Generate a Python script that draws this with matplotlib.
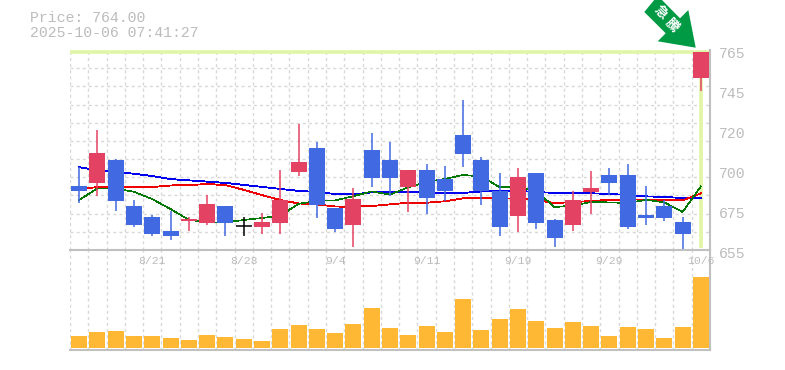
import matplotlib
import matplotlib.pyplot as plt
from matplotlib.patches import Polygon
from matplotlib.transforms import ScaledTranslation

matplotlib.use("Agg")

W, H = 785, 370

opens = [690.2, 691.9, 704.5, 679.2, 673.2, 665.5, 671.0, 669.9, 679.2, 668.0, 667.7, 669.9,
         697.9, 711.1, 678.1, 668.8, 710.0, 704.5, 689.7, 699.0, 694.0, 718.3, 704.5, 687.5,
         673.7, 697.4, 671.5, 668.8, 686.9, 696.3, 696.3, 674.3, 679.2, 670.4, 749.6]
closes = [687.5, 708.4, 682.0, 668.8, 663.8, 662.7, 672.0, 680.3, 669.9, 668.0, 670.4, 682.5,
          703.4, 679.8, 666.6, 683.0, 694.6, 694.6, 699.0, 683.6, 687.5, 707.8, 687.5, 667.7,
          695.2, 669.9, 661.6, 682.5, 689.1, 691.9, 667.7, 672.6, 672.6, 663.8, 764.0]
highs = [700.5, 721.0, 704.9, 682.5, 674.3, 676.5, 673.2, 685.3, 679.2, 673.2, 675.4, 699.0,
         724.3, 714.4, 678.1, 689.1, 719.4, 714.4, 699.0, 702.3, 701.2, 737.5, 706.2, 697.4,
         700.1, 697.4, 672.0, 687.5, 698.5, 700.1, 702.3, 690.2, 682.5, 673.2, 764.0]
lows = [681.0, 684.7, 676.6, 667.8, 662.7, 660.5, 665.5, 668.8, 662.7, 662.7, 663.8, 663.8,
        695.7, 672.6, 664.9, 656.8, 689.7, 684.7, 675.9, 674.8, 682.0, 700.7, 679.8, 662.7,
        664.9, 666.6, 656.7, 665.5, 674.8, 685.3, 666.6, 668.8, 671.0, 655.6, 742.5]

ma_blue = [700.5, 699.0, 698.1, 696.9, 695.7, 694.0, 693.3, 692.6, 691.9, 690.8, 689.7, 688.6,
           687.5, 686.9, 685.8, 685.6, 686.7, 687.1, 687.1, 686.5, 686.4, 686.4, 687.2, 687.5,
           687.5, 686.9, 686.4, 686.4, 686.2, 685.8, 685.3, 684.5, 684.2, 683.6, 683.4]
ma_red = [688.6, 689.6, 690.0, 689.6, 689.6, 690.5, 690.7, 691.3, 690.7, 688.1, 685.2, 682.5,
          680.6, 680.1, 678.9, 678.8, 679.2, 680.1, 681.0, 681.0, 681.8, 683.4, 683.4, 683.4,
          683.2, 682.5, 680.8, 681.4, 681.9, 682.6, 682.8, 682.8, 682.5, 682.3, 686.1]
ma_green = [682.5, 688.9, 688.7, 687.0, 683.0, 677.5, 671.6, 670.2, 670.2, 671.5, 672.6, 673.9,
            680.4, 682.0, 682.3, 684.6, 687.2, 685.5, 689.5, 692.3, 694.1, 696.3, 695.4, 689.5,
            690.1, 687.3, 678.6, 679.5, 681.4, 681.2, 680.8, 682.6, 681.2, 675.9, 690.0]

volumes = [12, 16, 17, 12, 12, 10, 8, 13, 11, 9, 7, 19, 23, 19, 15, 24, 40, 20, 13, 22, 16, 49,
           18, 29, 39, 27, 20, 26, 22, 12, 21, 19, 10, 21, 71]

date_idx = [4, 9, 14, 19, 24, 29, 34]
date_labels = ["8/21", "8/28", "9/4", "9/11", "9/19", "9/29", "10/6"]
price_ticks = [765, 743, 721, 699, 677, 655]
price_labels = ["765", "745", "720", "700", "675", "655"]

RED = "#e44262"
BLUE = "#4169e1"
ORANGE = "#ffb833"
TEXT = "#bcbcbc"
GRID = "#d8d8d8"
AXIS = "#c0c0c0"
LIME = "#e0f5a5"
MONO = "Liberation Mono"

n = len(opens)
xs = [i + 0.5 for i in range(n)]


def box(top, bottom):
    return [70 / W, 1 - bottom / H, 640 / W, (bottom - top) / H]


fig = plt.figure(figsize=(W / 100, H / 100), dpi=100)
ax = fig.add_axes(box(50, 250))
vol = fig.add_axes(box(250, 350))
vol.patch.set_visible(False)
ax.set_zorder(2)
ax.patch.set_visible(False)

for a in (ax, vol):
    a.set_xlim(0, n)
    a.set_xticks(range(n + 1), minor=True)
    a.grid(True, which="minor", axis="x", color=GRID, lw=1, ls=(0, (2.2, 2.2)))
    a.set_axisbelow(True)
    a.tick_params(which="minor", length=0)
    for s in ("top", "left"):
        a.spines[s].set_visible(False)
    for s in ("bottom", "right"):
        a.spines[s].set_color(AXIS)
        a.spines[s].set_linewidth(1.5)

# price panel
ax.set_ylim(655, 765)
ax.set_yticks(range(655, 766, 10), minor=True)
ax.grid(True, which="minor", axis="y", color=GRID, lw=1, ls=(0, (2.2, 2.2)))
ax.axhline(closes[-1], color=LIME, lw=2.6, zorder=1.5)
ax.vlines(xs[-1], 656, closes[-1], color=LIME, lw=2.6, zorder=1.5)

ax.plot(xs, ma_blue, color="#0000ee", lw=0.6, zorder=2, antialiased=False)
ax.plot(xs, ma_red, color="#ee0000", lw=0.6, zorder=2, antialiased=False)
ax.plot(xs, ma_green, color="#007700", lw=0.45, zorder=2, antialiased=False)

colors = [RED if c > o else BLUE if c < o else "black" for o, c in zip(opens, closes)]
ax.vlines(xs, lows, highs, colors=colors, lw=1.1, zorder=3)
ax.bar(xs, [abs(c - o) for o, c in zip(opens, closes)], bottom=[min(o, c) for o, c in zip(opens, closes)],
       width=0.875, color=colors, zorder=3)
ax.hlines(closes[9], xs[9] - 0.44, xs[9] + 0.44, color="black", lw=1.1, zorder=3)

ax.set_xticks([xs[i] for i in date_idx])
ax.set_xticklabels(date_labels, family=MONO, fontsize=8.2, color=TEXT)
ax.tick_params(axis="x", which="major", length=0, pad=4.5)
ax.yaxis.tick_right()
ax.set_yticks(price_ticks)
ax.set_yticklabels(price_labels, family=MONO, fontsize=10.6, color=TEXT)
ax.tick_params(axis="y", which="major", length=0, pad=6.5)
shift = ScaledTranslation(0, -3 / 100, fig.dpi_scale_trans)
for label in ax.get_yticklabels():
    label.set_transform(label.get_transform() + shift)

# volume panel
vol.set_ylim(-2, 98)
vol.bar(xs, volumes, width=0.875, color=ORANGE, zorder=3)
vol.set_xticks([])
vol.set_yticks([])

# header
fig.text(30 / W, 1 - 18 / H, "Price: 764.00", family=MONO, fontsize=10.7, color=TEXT, va="center")
fig.text(30 / W, 1 - 33 / H, "2025-10-06 07:41:27", family=MONO, fontsize=10.7, color=TEXT, va="center")

# rise arrow
arrow_px = [(655, -1), (644.3, 12), (665.7, 33.3), (657.7, 41.3), (695.7, 47.7),
            (688.3, 10), (680, 18.3), (661, -1)]
fig.add_artist(Polygon([(x / W, 1 - y / H) for x, y in arrow_px], closed=True,
                       transform=fig.transFigure, color="#009944", lw=0, zorder=5))
for ch, (cx, cy) in zip("急騰", [(660.5, 12.5), (671.5, 25)]):
    fig.text(cx / W, 1 - cy / H, ch, family=["Noto Sans CJK JP", "DejaVu Sans"], fontsize=9.5,
             fontweight="bold", color="white", rotation=-45, ha="center", va="center",
             rotation_mode="anchor", zorder=6)

fig.savefig("out.png", dpi=100)
